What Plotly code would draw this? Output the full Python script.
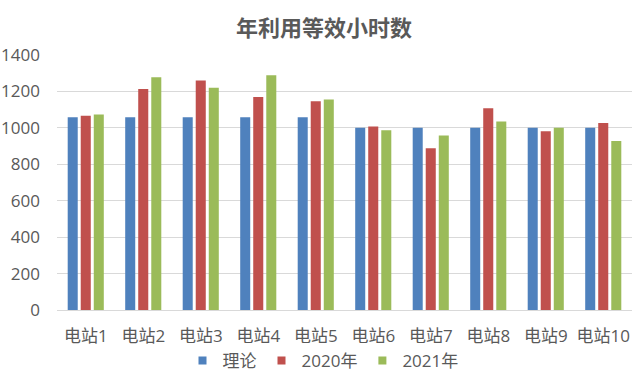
import plotly.graph_objects as go

categories = ["电站1", "电站2", "电站3", "电站4", "电站5", "电站6", "电站7", "电站8", "电站9", "电站10"]
theory = [1058, 1058, 1058, 1058, 1058, 1000, 1000, 1000, 1000, 1000]
y2020 = [1066, 1214, 1260, 1170, 1146, 1007, 888, 1108, 982, 1027]
y2021 = [1073, 1278, 1220, 1289, 1156, 987, 958, 1035, 1000, 928]
series_names = ["理论", "2020年", "2021年"]
colors = ["#4F81BD", "#C0504D", "#9BBB59"]
y_ticks = [0, 200, 400, 600, 800, 1000, 1200, 1400]

FONT = "Open Sans, Noto Sans CJK SC, sans-serif"
TXT = "#595959"

W, H = 640, 383

fig = go.Figure()
for name, vals, col in zip(series_names, [theory, y2020, y2021], colors):
    fig.add_trace(go.Bar(x=categories, y=vals, name=name, marker=dict(color=col, line=dict(width=0)),
                         showlegend=False))
    fig.add_trace(go.Scatter(x=[None], y=[None], mode="markers", name=name,
                             marker=dict(symbol="square", size=8, color=col)))

fig.update_layout(
    width=W, height=H,
    margin=dict(l=57, r=8, t=55, b=73, autoexpand=False),
    paper_bgcolor="white", plot_bgcolor="white",
    barmode="group", bargap=0.32, bargroupgap=0.23,
    font=dict(family=FONT, size=17, color=TXT),
    title=dict(text="<b>年利用等效小时数</b>", font=dict(family="Noto Sans CJK SC", size=22, color=TXT),
               xref="container", x=324 / W, xanchor="center",
               yref="container", y=1 - 28 / H, yanchor="middle"),
    legend=dict(orientation="h", xref="container", x=323 / W, xanchor="center",
                yref="container", y=1 - 361 / H, yanchor="middle",
                font=dict(family=FONT, size=17, color=TXT), itemwidth=30, tracegroupgap=0),
    showlegend=True,
)
fig.update_yaxes(range=[0, 1400], tickvals=y_ticks, showgrid=True, gridcolor="#D9D9D9", gridwidth=1,
                 zeroline=True, zerolinecolor="#D9D9D9", zerolinewidth=1, showline=False, ticks="",
                 ticklabelstandoff=16, automargin=False, tickfont=dict(family=FONT, size=17, color=TXT))
fig.update_xaxes(showgrid=False, showline=False, ticks="", ticklabelstandoff=14, automargin=False,
                 tickfont=dict(family=FONT, size=17, color=TXT))

fig.write_html("out.html", config={"displayModeBar": False},
               post_script="document.body.style.margin='0';")
